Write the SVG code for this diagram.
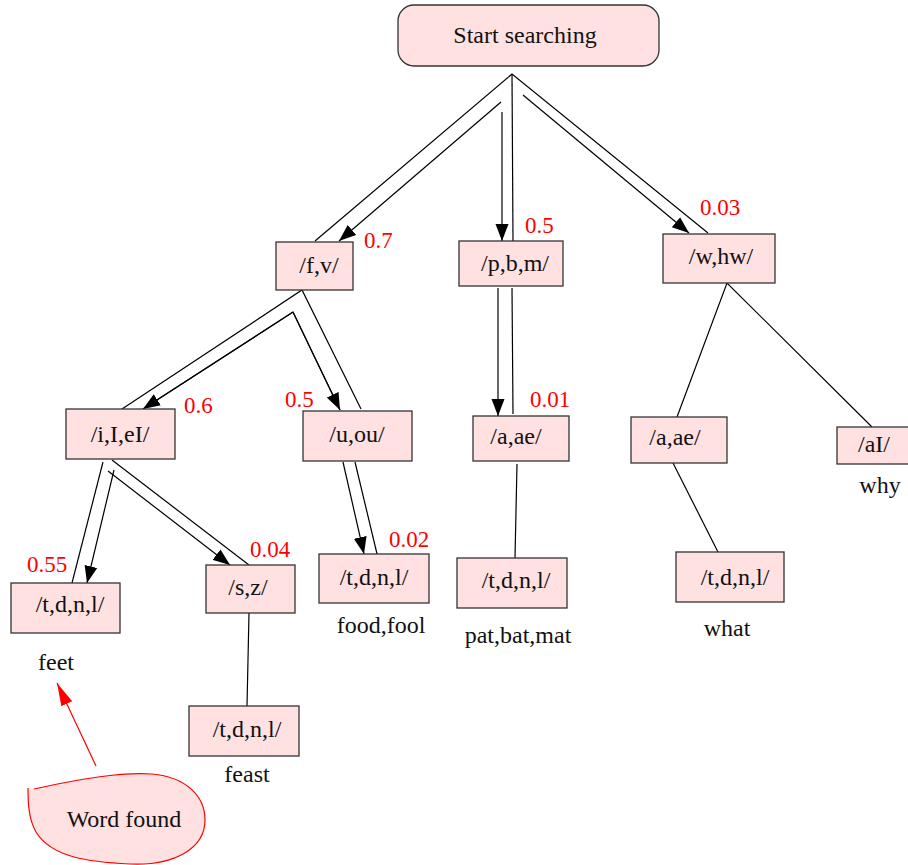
<svg xmlns="http://www.w3.org/2000/svg" width="908" height="865" viewBox="0 0 908 865">
  <defs>
    <style>
      .box { fill: #ffe1e1; stroke: #333; stroke-width: 1.3; }
      .t { font-size: 24px; fill: #111; text-anchor: middle; }
      .p { font-size: 23px; fill: #ff0000; }
      .e { stroke: #000; stroke-width: 1.2; fill: none; }
      .a { stroke: #000; stroke-width: 1.2; fill: none; marker-end: url(#ah); }
    </style>
    <marker id="ah" markerUnits="userSpaceOnUse" markerWidth="18" markerHeight="14" refX="17" refY="7" orient="auto">
      <path d="M0,0.5 L17,7 L0,13.5 Z" fill="#000"/>
    </marker>
    <marker id="ahr" markerUnits="userSpaceOnUse" markerWidth="24" markerHeight="14" refX="23" refY="7" orient="auto">
      <path d="M0,1 L23,7 L0,13 Z" fill="#ff0000"/>
    </marker>
  </defs>

  <!-- search paths -->
  <g id="connectors">
    <!-- root fan-out -->
    <polyline class="e" points="315,241 512,74 708,233"/>
    <line class="e" x1="512" y1="74" x2="513" y2="241"/>
    <line class="a" x1="501" y1="102" x2="339" y2="241"/>
    <line class="a" x1="502" y1="112" x2="502" y2="241"/>
    <line class="a" x1="523" y1="95" x2="689" y2="233"/>
    <!-- /f,v/ -->
    <polyline class="e" points="122,409 302,290 361,409"/>
    <polyline class="e" points="143,409 293,312 340,410"/>
    <line class="a" x1="293" y1="312" x2="143" y2="409"/>
    <line class="a" x1="293" y1="312" x2="340" y2="410"/>
    <!-- /i,I,eI/ -->
    <line class="e" x1="103" y1="462" x2="72" y2="583"/>
    <line class="a" x1="114" y1="470" x2="87" y2="583"/>
    <line class="e" x1="112" y1="460" x2="249" y2="565"/>
    <line class="a" x1="108" y1="471" x2="230" y2="565"/>
    <!-- /s,z/ -->
    <line class="e" x1="249" y1="613" x2="247" y2="706"/>
    <!-- /u,ou/ -->
    <line class="a" x1="343" y1="462" x2="364" y2="554"/>
    <line class="e" x1="355" y1="462" x2="378" y2="558"/>
    <!-- /p,b,m/ -->
    <line class="a" x1="498" y1="288" x2="498" y2="416"/>
    <line class="e" x1="512" y1="288" x2="513" y2="414"/>
    <line class="e" x1="517" y1="464" x2="515" y2="558"/>
    <!-- /w,hw/ -->
    <polyline class="e" points="677,417 727,283 872,427"/>
    <line class="e" x1="673" y1="463" x2="718" y2="552"/>
    <!-- annotation -->
    <line x1="96" y1="766" x2="57" y2="683" stroke="#ff0000" stroke-width="1.2" marker-end="url(#ahr)"/>
  </g>

  <g font-family="'Liberation Serif', 'DejaVu Serif', serif">
  <g id="start">
    <rect class="box" x="398" y="5" width="261" height="61" rx="16" ry="16"/>
    <text class="t" x="525" y="43">Start searching</text>
  </g>

  <g id="fv">
    <rect class="box" x="276" y="242" width="77" height="48"/>
    <text class="t" x="319" y="273">/f,v/</text>
    <text class="p" x="364" y="248">0.7</text>
  </g>

  <g id="pbm">
    <rect class="box" x="459" y="241" width="104" height="45"/>
    <text class="t" x="515" y="271">/p,b,m/</text>
    <text class="p" x="525" y="233">0.5</text>
  </g>

  <g id="whw">
    <rect class="box" x="663" y="234" width="112" height="49"/>
    <text class="t" x="721" y="264">/w,hw/</text>
    <text class="p" x="700" y="215">0.03</text>
  </g>

  <g id="iIeI">
    <rect class="box" x="66" y="409" width="109" height="50"/>
    <text class="t" x="120" y="442">/i,I,eI/</text>
    <text class="p" x="184" y="413">0.6</text>
  </g>

  <g id="uou">
    <rect class="box" x="303" y="411" width="109" height="50"/>
    <text class="t" x="357" y="442">/u,ou/</text>
    <text class="p" x="285" y="407">0.5</text>
  </g>

  <g id="aae-p">
    <rect class="box" x="473" y="416" width="96" height="45"/>
    <text class="t" x="516" y="444">/a,ae/</text>
    <text class="p" x="530" y="407">0.01</text>
  </g>

  <g id="aae-w">
    <rect class="box" x="631" y="417" width="96" height="46"/>
    <text class="t" x="675" y="445">/a,ae/</text>
  </g>

  <g id="aI">
    <rect class="box" x="837" y="427" width="80" height="37"/>
    <text class="t" x="874" y="452">/aI/</text>
    <text class="t" x="880" y="493">why</text>
  </g>

  <g id="tdnl-feet">
    <rect class="box" x="11" y="583" width="109" height="50"/>
    <text class="t" x="70" y="612">/t,d,n,l/</text>
    <text class="p" x="27" y="572">0.55</text>
    <text class="t" x="56" y="670">feet</text>
  </g>

  <g id="sz">
    <rect class="box" x="206" y="565" width="89" height="48"/>
    <text class="t" x="248" y="595">/s,z/</text>
    <text class="p" x="250" y="557">0.04</text>
  </g>

  <g id="tdnl-feast">
    <rect class="box" x="189" y="706" width="110" height="50"/>
    <text class="t" x="247" y="737">/t,d,n,l/</text>
    <text class="t" x="247" y="782">feast</text>
  </g>

  <g id="tdnl-food">
    <rect class="box" x="319" y="554" width="110" height="49"/>
    <text class="t" x="374" y="585">/t,d,n,l/</text>
    <text class="p" x="389" y="547">0.02</text>
    <text class="t" x="381" y="633">food,fool</text>
  </g>

  <g id="tdnl-pat">
    <rect class="box" x="457" y="558" width="110" height="50"/>
    <text class="t" x="516" y="588">/t,d,n,l/</text>
    <text class="t" x="518" y="643">pat,bat,mat</text>
  </g>

  <g id="tdnl-what">
    <rect class="box" x="676" y="552" width="108" height="50"/>
    <text class="t" x="735" y="585">/t,d,n,l/</text>
    <text class="t" x="727" y="636">what</text>
  </g>

  <g id="word-found">
    <path d="M34,789 C80,779 120,772 152,774 C186,777 205,796 205,820 C205,848 175,866 130,864 C90,862 52,858 36,832 C28,818 28,800 28,788" fill="#ffe1e1" stroke="#ff0000" stroke-width="1.2"/>
    <text class="t" x="124" y="827">Word found</text>
  </g>
  </g>
</svg>
